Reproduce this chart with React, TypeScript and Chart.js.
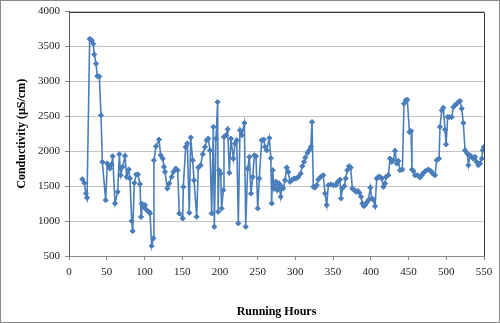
import React, { useEffect, useRef } from "react";
import { Chart, registerables } from "chart.js";

Chart.register(...registerables);

const hours: number[] = [
  17.6, 20.3, 22.5, 23.9, 27.4, 30, 32.2, 33.5, 35.8, 37.5, 40.2, 42.4, 44.2, 48.6, 50.8, 52.6, 54.3, 56.5, 57.9, 61,
  64.5, 66.7, 68.5, 71.1, 74.2, 76.4, 79.1, 80.8, 83.1, 84.4, 86.6, 89.2, 91.4, 94.1, 95.5, 96.3, 98.5, 100.7, 103, 106,
  107.4, 109.6, 111.8, 112.6, 115.3, 119.3, 121.5, 124.2, 125.9, 127.2, 130.3, 133, 136.1, 138.2, 141.4, 144, 146.2, 150.7, 151.5, 154.6,
  156.8, 159.4, 161.3, 163.9, 165.7, 169.2, 171.4, 174.5, 177.2, 180.3, 182.5, 184.6, 186.9, 189.1, 191.3, 192.6, 194.8, 197, 197.6, 198.8,
  201, 202.3, 204.5, 205.4, 208, 210.3, 212.5, 214.7, 217.8, 220, 222.3, 224.4, 226.6, 228.9, 232.4, 234.2, 236.8, 239, 241.2, 243.5,
  245.6, 247.8, 250.1, 252.2, 255.4, 258, 259.8, 262, 265.5, 267.5, 268.6, 270, 271.7, 274.4, 276, 278.3, 280.6, 282, 284, 286.3,
  288.5, 290.6, 292.9, 295.2, 298.2, 300.9, 303.9, 307, 309.2, 311.5, 313.2, 315.9, 318.5, 320.4, 322.1, 323.8, 326.1, 328.3, 330.4, 333.6,
  337, 339.3, 341.6, 343.7, 346.9, 350.3, 353.9, 356.1, 359.2, 360.5, 362.2, 364.9, 366.7, 368.8, 371.1, 373.3, 375.5, 378.1, 380.4, 382.6,
  384.8, 387, 388.8, 390.6, 392.3, 394.6, 396.7, 399.4, 401.2, 403.3, 405.6, 407.8, 410, 412.2, 414.5, 416.6, 418.8, 420.2, 423.2, 425.4,
  427.7, 429.8, 432.1, 434.4, 436.4, 438.7, 441.8, 444, 446.3, 448.4, 451.1, 453.3, 454.5, 456.3, 458.6, 461.6, 465.2, 467.5, 469.6, 472.8,
  476.2, 479.4, 482, 485.1, 487.3, 490.4, 491.7, 494, 496.1, 498.3, 499.7, 501.9, 504, 507.2, 509.4, 511.6, 513.8, 516, 518.2, 520.5,
  522.6, 524.9, 527.9, 529.3, 531.5, 533.7, 535.8, 538.1, 540.3, 542.5, 544.7, 547, 548.3, 549.8,
];

const conductivity: number[] = [
  1600, 1547, 1396, 1333, 3610, 3590, 3540, 3386, 3253, 3076, 3071, 2514, 1847, 1300, 1824, 1786, 1752, 1814, 1928, 1253,
  1419, 1957, 1657, 1776, 1933, 1633, 1738, 1610, 1000, 857, 1547, 1667, 1667, 1530, 1060, 1250, 1200, 1229, 1157, 1133,
  1110, 643, 752, 1871, 2071, 2167, 1943, 1895, 1776, 1704, 1467, 1538, 1633, 1704, 1752, 1729, 1110, 1038, 1490, 2062,
  2110, 1119, 2196, 1871, 1586, 1062, 1767, 1800, 1957, 2062, 2157, 2181, 2014, 1110, 2348, 919, 2181, 2705, 1133, 1729,
  1681, 1181, 1443, 2205, 2229, 2314, 1690, 2181, 1895, 2110, 2157, 967, 2300, 2229, 2405, 919, 1752, 1919, 1395, 1633,
  1943, 1929, 1181, 1610, 2157, 2167, 2062, 2014, 2190, 1900, 1253, 1729, 1467, 1562, 1443, 1538, 1348, 1490, 1467, 1586,
  1767, 1704, 1562, 1586, 1610, 1610, 1633, 1681, 1786, 1848, 1910, 1976, 2014, 2062, 2419, 1490, 1481, 1514, 1595, 1633,
  1657, 1395, 1229, 1514, 1524, 1514, 1514, 1562, 1595, 1324, 1467, 1500, 1610, 1729, 1786, 1767, 1467, 1443, 1419, 1433,
  1405, 1348, 1253, 1214, 1229, 1262, 1300, 1481, 1324, 1310, 1214, 1610, 1633, 1633, 1610, 1490, 1538, 1633, 1657, 1895,
  1848, 1871, 2005, 1824, 1862, 1729, 1738, 2681, 2729, 2738, 2276, 2290, 1738, 1719, 1657, 1657, 1624, 1657, 1690, 1719,
  1738, 1719, 1681, 1657, 1871, 1895, 2348, 2586, 2624, 2310, 2100, 2490, 2490, 2490, 2633, 2657, 2681, 2705, 2719, 2610,
  2405, 2014, 1967, 1800, 1943, 1919, 1895, 1919, 1848, 1800, 1824, 1895, 2014, 2060,
];

const xTitle = "Running Hours";
const yTitle = "Conductivity (µS/cm)";
const xMin = 0;
const xMax = 550;
const xStep = 50;
const yMin = 500;
const yMax = 4000;
const yStep = 500;

const FONT = "'Liberation Serif', 'Times New Roman', serif";

export default function App() {
  const ref = useRef<HTMLCanvasElement | null>(null);

  useEffect(() => {
    document.body.style.margin = "0";
    const canvas = ref.current;
    if (!canvas) return;

    const framePlugin = {
      id: "frame",
      beforeDraw(chart: any) {
        const ctx = chart.ctx;
        ctx.save();
        ctx.fillStyle = "#ffffff";
        ctx.fillRect(0, 0, chart.width, chart.height);
        ctx.restore();
      },
      afterDatasetsDraw(chart: any) {
        const { ctx, chartArea } = chart;
        ctx.save();
        ctx.strokeStyle = "#3a3a3a";
        ctx.lineWidth = 1;
        ctx.beginPath();
        ctx.moveTo(Math.round(chartArea.left) + 0.5, Math.round(chartArea.top) + 0.5);
        ctx.lineTo(Math.round(chartArea.right) + 0.5, Math.round(chartArea.top) + 0.5);
        ctx.lineTo(Math.round(chartArea.right) + 0.5, Math.round(chartArea.bottom) + 0.5);
        ctx.stroke();
        ctx.strokeStyle = "#8a8a8a";
        ctx.strokeRect(0.5, 0.5, chart.width - 1, chart.height - 1);
        ctx.restore();
      },
    };

    const points = hours.map((h, i) => ({ x: h, y: conductivity[i] }));

    const chart = new Chart(canvas, {
      type: "line",
      data: {
        datasets: [
          {
            data: points,
            borderColor: "#4a7ebb",
            backgroundColor: "#4a7ebb",
            borderWidth: 1.6,
            pointStyle: "rectRot",
            pointRadius: 2.6,
            pointBorderWidth: 1,
            pointBackgroundColor: "#4a7ebb",
            pointBorderColor: "#4a7ebb",
            tension: 0,
            fill: false,
          },
        ],
      },
      options: {
        responsive: false,
        animation: false,
        devicePixelRatio: 1,
        layout: { padding: { left: 0, right: 16, top: 11, bottom: 0 } },
        plugins: {
          legend: { display: false },
          tooltip: { enabled: false },
        },
        scales: {
          x: {
            type: "linear",
            min: xMin,
            max: xMax,
            afterFit(scale: any) {
              scale.height = 67;
            },
            ticks: {
              stepSize: xStep,
              color: "#222",
              font: { family: FONT, size: 11 },
              padding: 6,
              maxRotation: 0,
              callback: (v: any) => String(v),
            },
            grid: {
              drawOnChartArea: false,
              tickLength: 4,
              tickColor: "#8a8a8a",
            },
            border: { color: "#8a8a8a", width: 1 },
            title: {
              display: true,
              text: xTitle,
              color: "#000",
              font: { family: FONT, size: 12, weight: "bold" },
              padding: { top: 0, bottom: 4 },
            },
          },
          y: {
            min: yMin,
            max: yMax,
            afterFit(scale: any) {
              scale.width = 69;
            },
            ticks: {
              stepSize: yStep,
              color: "#222",
              font: { family: FONT, size: 11 },
              padding: 5,
              callback: (v: any) => String(v),
            },
            grid: {
              color: "#c4c4c4",
              lineWidth: 1,
              tickLength: 4,
              tickColor: "#8a8a8a",
            },
            border: { color: "#5a5a5a", width: 1 },
            title: {
              display: true,
              text: yTitle,
              color: "#000",
              font: { family: FONT, size: 12, weight: "bold" },
              padding: { top: 15, bottom: 0 },
            },
          },
        },
      },
      plugins: [framePlugin],
    });

    return () => chart.destroy();
  }, []);

  return (
    <div style={{ width: 500, height: 323 }}>
      <canvas ref={ref} width={500} height={323} style={{ display: "block", width: 500, height: 323 }} />
    </div>
  );
}
